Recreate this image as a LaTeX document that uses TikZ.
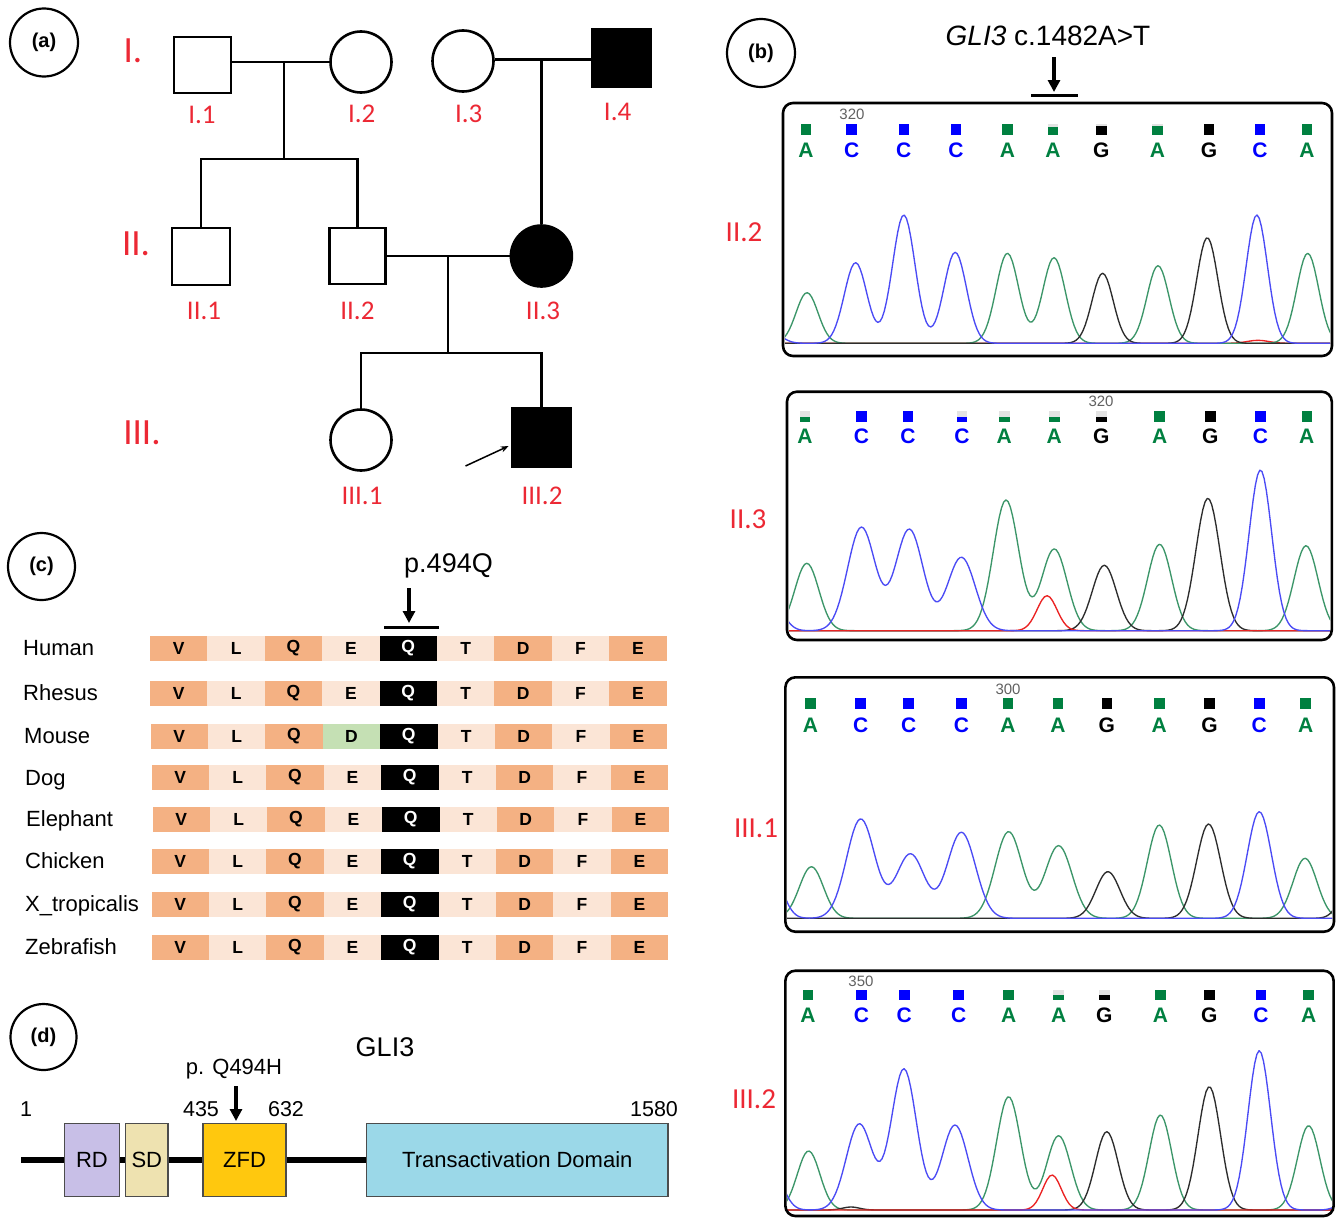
\documentclass[tikz,border=0pt]{standalone}
\usepackage{fontspec}
\setmainfont{Liberation Sans}
\newfontfamily\carl{Carlito}
\usetikzlibrary{arrows.meta}

\definecolor{pedred}{RGB}{236,40,52}
\definecolor{bA}{RGB}{0,128,64}
\definecolor{bC}{RGB}{0,0,255}
\definecolor{bG}{RGB}{0,0,0}
\definecolor{trA}{RGB}{60,150,105}
\definecolor{trC}{RGB}{75,75,245}
\definecolor{trG}{RGB}{45,45,45}
\definecolor{trT}{RGB}{235,35,35}
\definecolor{cdark}{RGB}{244,177,131}
\definecolor{clight}{RGB}{251,229,214}
\definecolor{cgreen}{RGB}{197,224,180}
\definecolor{rdcol}{RGB}{200,191,231}
\definecolor{sdcol}{RGB}{238,226,176}
\definecolor{zfdcol}{RGB}{255,200,14}
\definecolor{tadcol}{RGB}{155,216,232}

\newcommand\drawbases[4]{%
  \foreach \bx/\bb/\bq [count=\bi] in {#4} {%
    \fill[gray!22] ({\bx-5.3},{#2-5.3}) rectangle ({\bx+5.3},{#2+5.3});
    \fill[fill=b\bb] ({\bx-5.3},{#2+5.3-10.6*\bq}) rectangle ({\bx+5.3},{#2+5.3});
    \node[baselet, text=b\bb] (#1-\bi) at (\bx,#3) {\bb};
  }}

\begin{document}
\begin{tikzpicture}[x=1pt,y=-1pt,
  declare function={gp(\gx,\gc,\gh,\gw)=\gh*exp(-min(((\gx-\gc)/\gw)*((\gx-\gc)/\gw),20));},
  pedsym/.style={draw, line width=2.6, inner sep=0, fill=white},
  pedmale/.style={pedsym, rectangle},
  pedfemale/.style={pedsym, circle, minimum size=61},
  affected/.style={fill=black},
  pedline/.style={line width=2.8},
  genlab/.style={text=pedred, font=\carl\fontsize{37}{40}\selectfont, inner sep=0},
  indlab/.style={text=pedred, font=\carl\fontsize{27}{30}\selectfont, inner sep=0},
  seqlab/.style={text=pedred, font=\carl\fontsize{29}{32}\selectfont, inner sep=0},
  panlab/.style={draw, circle, line width=2.2, minimum size=68, inner sep=0, font=\bfseries\fontsize{20}{24}\selectfont},
  chrombox/.style={draw, line width=2.6, rounded corners=10},
  baselet/.style={font=\bfseries\fontsize{21}{24}\selectfont, inner sep=0},
  posnum/.style={text=black!62, font=\fontsize{15}{18}\selectfont, inner sep=0},
  trc/.style={line width=1.35, line join=round},
  downarrow/.style={line width=3.1, -{Triangle[length=12pt,width=12pt]}},
  markbar/.style={line width=3.2},
  spname/.style={anchor=base west, font=\fontsize{22}{26}\selectfont, inner sep=0},
  aacell/.style={minimum width=57.4, minimum height=25, inner sep=0, font=\bfseries\fontsize{17.5}{20}\selectfont},
  dombox/.style={draw=black!70, line width=1.3, minimum height=73, inner sep=0, font=\fontsize{22}{26}\selectfont},
  domnum/.style={font=\fontsize{21.5}{24}\selectfont, inner sep=0},
]
\fill[white] (0,0) rectangle (1338,1218);
\useasboundingbox (0,0) rectangle (1338,1218);

% ---------------- panel labels
\node[panlab] (pa) at (44,42.5) {(a)};
\node[panlab] (pb) at (761,53) {(b)};
\node[panlab, minimum size=67] (pc) at (41.5,566.5) {(c)};
\node[panlab, minimum size=66] (pd) at (43.5,1037) {(d)};

% ---------------- (a) pedigree
\node[pedmale, minimum width=57, minimum height=56] (I1) at (202.5,65) {};
\node[pedfemale] (I2) at (361,62) {};
\node[pedfemale] (I3) at (463,61) {};
\node[pedmale, affected, minimum width=59, minimum height=58] (I4) at (621.5,58) {};
\node[pedmale, minimum width=58, minimum height=57] (II1) at (201,256.5) {};
\node[pedmale, minimum size=56] (II2) at (357.5,256) {};
\node[pedfemale, affected] (II3) at (541.4,256) {};
\node[pedfemale] (III1) at (361,440) {};
\node[pedmale, affected, minimum size=59] (III2) at (541.5,437.5) {};

\coordinate (m1) at (284,62);
\coordinate (s1) at (284,159);
\coordinate (m2) at (541.4,59.5);
\coordinate (m3) at (448,256);
\coordinate (s2) at (448,353);
\draw[pedline] (I1.east |- I2.west) -- (I2.west);
\draw[pedline] (m1) -- (s1);
\draw[pedline] (II1.north) |- (s1) -| (II2.north);
\draw[pedline] (I3.east |- m2) -- (I4.west |- m2);
\draw[pedline] (m2) -- (II3.north);
\draw[pedline] (II2.east) -- (II3.west);
\draw[pedline] (m3) -- (s2);
\draw[pedline] (III1.north) |- (s2) -| (III2.north);
\coordinate (prob) at (465.5,466);
\draw[line width=1.5, -{Stealth[length=8pt,width=6pt]}] (prob) -- ([xshift=-2pt,yshift=-8.5pt]III2.west);

\node[genlab] (gI) at (133,51) {I.};
\node[genlab] (gII) at (136,244) {II.};
\node[genlab] (gIII) at (142,432.5) {III.};
\node[indlab] (lI1) at (202,114.5) {I.1};
\node[indlab] (lI2) at (361.7,114) {I.2};
\node[indlab] (lI3) at (468.7,114) {I.3};
\node[indlab] (lI4) at (617.6,112) {I.4};
\node[indlab] (lII1) at (204,310.5) {II.1};
\node[indlab] (lII2) at (357.4,310.5) {II.2};
\node[indlab] (lII3) at (543,310.5) {II.3};
\node[indlab] (lIII1) at (362,496) {III.1};
\node[indlab] (lIII2) at (542,496) {III.2};

% ---------------- (b) chromatograms
\node[font=\fontsize{28}{32}\selectfont, inner sep=0] (gtitle) at (1048,36) {\textit{GLI3} c.1482A>T};
\coordinate (ba0) at (1054,57);
\coordinate (ba1) at (1054,92);
\draw[downarrow] (ba0) -- (ba1);
\coordinate (bb0) at (1031,95.5);
\coordinate (bb1) at (1077.5,95.5);
\draw[markbar] (bb0) -- (bb1);

\node[seqlab] (sl1) at (744,232) {II.2};
\node[seqlab] (sl2) at (748,519) {II.3};
\node[seqlab] (sl3) at (756,828) {III.1};
\node[seqlab] (sl4) at (754,1099) {III.2};

% II.2
\begin{scope}
\clip (785,105) rectangle (1330,354);
\draw[trc, trT] plot[domain=783:1332, samples=120] (\x,{343.3-gp(\x,1258,3,15)});
\draw[trc, trA] plot[domain=783:1332, samples=250] (\x,{343.3-gp(\x,807,50.6,15.5)-gp(\x,1007.4,90,16)-gp(\x,1054,85.6,16)-gp(\x,1158,77.6,15.5)-gp(\x,1307.7,90,15.5)});
\draw[trc, trG] plot[domain=783:1332, samples=250] (\x,{343.3-gp(\x,1102.6,70,15)-gp(\x,1207.3,105.6,15)});
\draw[trc, trC] plot[domain=783:1332, samples=250] (\x,{343.3-gp(\x,770,12,15)-gp(\x,855.6,80.6,16)-gp(\x,903.8,128.3,16)-gp(\x,955.2,91,16)-gp(\x,1256.8,128.3,15)});
\end{scope}
\draw[chrombox] (783,103) rectangle (1332,356);
\node[posnum] (na) at (852,114) {320};
\drawbases{sa}{129.3}{150}{806/A/1, 851.6/C/1, 903.8/C/1, 956/C/1, 1007.4/A/1, 1053/A/0.75, 1101.4/G/0.85, 1157.5/A/0.8, 1209/G/1, 1260/C/1, 1307/A/1}

% II.3
\begin{scope}
\clip (789,393.5) rectangle (1330,638);
\draw[trc, trA] plot[domain=787:1332, samples=250] (\x,{630.7-gp(\x,806.8,67.4,17)-gp(\x,1006,130.7,18)-gp(\x,1054.3,81.7,18)-gp(\x,1159.6,86.4,17)-gp(\x,1306,85,17)});
\draw[trc, trG] plot[domain=787:1332, samples=250] (\x,{630.7-gp(\x,1104.3,65.4,17)-gp(\x,1207.9,132.4,17)});
\draw[trc, trT] plot[domain=787:1332, samples=200] (\x,{630.7-gp(\x,1047,35,14)});
\draw[trc, trC] plot[domain=787:1332, samples=250] (\x,{630.7-gp(\x,772,30,15)-gp(\x,861.4,103.4,19.5)-gp(\x,909.3,101.4,19.5)-gp(\x,961.4,73.4,19.5)-gp(\x,1260.4,160.7,16)});
\end{scope}
\draw[chrombox] (787,391.7) rectangle (1331.8,640);
\node[posnum] (nb) at (1101,401.7) {320};
\drawbases{sb}{416.7}{436.7}{805/A/0.5, 861.4/C/1, 907.9/C/1, 962/C/0.5, 1004.3/A/0.5, 1054.3/A/0.5, 1101.4/G/0.5, 1159.6/A/1, 1210.4/G/1, 1260.4/C/1, 1306.8/A/1}

% III.1
\begin{scope}
\clip (787,679) rectangle (1332,930);
\draw[trc, trT] (785,918.3) -- (1334,918.3);
\draw[trc, trA] plot[domain=785:1334, samples=250] (\x,{918.3-gp(\x,811.4,51.6,17)-gp(\x,1008.6,86.6,19)-gp(\x,1058.6,72.6,19)-gp(\x,1159.3,93.3,17)-gp(\x,1305,60,17)});
\draw[trc, trG] plot[domain=785:1334, samples=250] (\x,{918.3-gp(\x,1107.9,46.6,17)-gp(\x,1208.6,94.3,17)-gp(\x,1352,40,15)});
\draw[trc, trC] plot[domain=785:1334, samples=250] (\x,{918.3-gp(\x,772,45,15)-gp(\x,860.7,99.3,20)-gp(\x,910.4,64.3,20)-gp(\x,961.4,86,20)-gp(\x,1259.3,106.6,17)});
\end{scope}
\draw[chrombox] (785.4,677.3) rectangle (1334,931.7);
\node[posnum] (nc) at (1008,689) {300};
\drawbases{sc}{703.3}{725}{810.4/A/1, 860.7/C/1, 908.6/C/1, 961.4/C/1, 1007.9/A/1, 1057.9/A/1, 1106.8/G/1, 1159.3/A/1, 1209.6/G/1, 1259.3/C/1, 1305.7/A/1}

% III.2
\begin{scope}
\clip (787,972.5) rectangle (1332,1214);
\draw[trc, trA] plot[domain=785:1334, samples=250] (\x,{1210-gp(\x,808.6,59,16)-gp(\x,1008.6,113.3,17)-gp(\x,1058.6,74.3,17)-gp(\x,1160.4,95,16)-gp(\x,1308.6,84.3,16)});
\draw[trc, trG] plot[domain=785:1334, samples=250] (\x,{1210-gp(\x,851,3,12)-gp(\x,1106.8,78.3,16)-gp(\x,1209.3,123.3,16)});
\draw[trc, trT] plot[domain=785:1334, samples=200] (\x,{1210-gp(\x,1052,35,13)});
\draw[trc, trC] plot[domain=785:1334, samples=250] (\x,{1210-gp(\x,772,40,15)-gp(\x,859.3,86,18.5)-gp(\x,903.9,141,18)-gp(\x,955,85,18.5)-gp(\x,1259.3,159.3,16)-gp(\x,1340,4,10)});
\end{scope}
\draw[chrombox] (785.4,970.7) rectangle (1333.6,1216);
\node[posnum] (nd) at (861,981) {350};
\drawbases{sd}{995}{1015}{807.9/A/1, 861.4/C/1, 904.3/C/1, 958.6/C/1, 1008.6/A/1, 1058.6/A/0.5, 1104.3/G/0.5, 1160.4/A/1, 1209.3/G/1, 1261/C/1, 1308.6/A/1}

% ---------------- (c) alignment
\node[font=\fontsize{27}{30}\selectfont, inner sep=0] (p494) at (448.5,566) {p.494Q};
\coordinate (ca0) at (409,588);
\coordinate (ca1) at (409,623);
\draw[downarrow] (ca0) -- (ca1);
\coordinate (cb0) at (384,627.3);
\coordinate (cb1) at (438.5,627.3);
\draw[markbar] (cb0) -- (cb1);

\foreach \spn/\sx/\yy/\xo/\aa/\ac [count=\r] in {
  Human/23/648/150/E/clight,
  Rhesus/23/693/150/E/clight,
  Mouse/24/736/150.5/D/cgreen,
  Dog/25/777.5/151.5/E/clight,
  Elephant/26/819/152.5/E/clight,
  Chicken/25/861/151.5/E/clight,
  X\_tropicalis/25/904/151.5/E/clight,
  Zebrafish/25/947/151.5/E/clight}{
  \node[spname] (sp\r) at (\sx,{\yy+7.8}) {\spn};
  \foreach \lt/\cc/\tc [count=\i] in {V/cdark/black, L/clight/black, Q/cdark/black, \aa/\ac/black, Q/black/white, T/clight/black, D/cdark/black, F/clight/black, E/cdark/black}{
    \node[aacell, fill=\cc, text=\tc] (c\r-\i) at ({\xo+(\i-0.5)*57.4},\yy) {\lt};
  }
}

% ---------------- (d) domains
\node[font=\fontsize{27}{30}\selectfont, inner sep=0] (gli) at (385,1047) {GLI3};
\node[font=\fontsize{22}{26}\selectfont, inner sep=0] (q494h) at (234,1069) {p. Q494H};
\node[dombox, fill=rdcol, minimum width=55] (RD) at (92,1160) {RD};
\node[dombox, fill=sdcol, minimum width=42.4] (SD) at (146.8,1160) {SD};
\node[dombox, fill=zfdcol, minimum width=83] (ZFD) at (244.5,1160) {ZFD};
\node[dombox, fill=tadcol, minimum width=301.4] (TAD) at (517.3,1160) {Transactivation Domain};
\coordinate (bl0) at (21,1160);
\begin{scope}[line width=5.5]
\draw (bl0) -- (RD.west);
\draw (RD.east) -- (SD.west);
\draw (SD.east) -- (ZFD.west);
\draw (ZFD.east) -- (TAD.west);
\end{scope}
\coordinate (da0) at (236,1086);
\coordinate (da1) at (236,1121);
\draw[downarrow] (da0) -- (da1);
\node[domnum] (n1) at (26,1109) {1};
\node[domnum] (n435) at (201,1109) {435};
\node[domnum] (n632) at (286,1109) {632};
\node[domnum] (n1580) at (654,1109) {1580};
\end{tikzpicture}
\end{document}
